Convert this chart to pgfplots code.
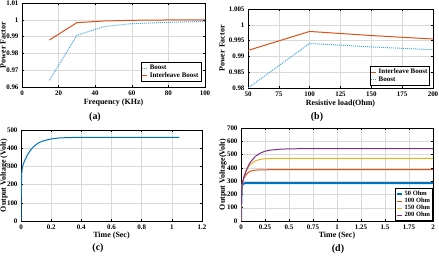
\documentclass[border=0pt]{standalone}
\usepackage{fontspec}
\setmainfont{Liberation Serif}
\usepackage{pgfplots}
\pgfplotsset{compat=1.18}

\definecolor{mblue}{rgb}{0,0.447,0.741}
\definecolor{mlblue}{rgb}{0.25,0.65,0.90}
\definecolor{morange}{rgb}{0.85,0.325,0.098}
\definecolor{myellow}{rgb}{0.929,0.694,0.125}
\definecolor{mpurple}{rgb}{0.494,0.184,0.556}

\pgfplotsset{
  panel/.style={
    scale only axis,
    anchor=north west,
    axis line style={black, line width=0.8pt},
    grid=major,
    major grid style={gray!30, line width=0.4pt},
    tick align=inside,
    major tick length=2pt,
    tick style={black, line width=0.5pt},
    every tick label/.append style={font=\fontsize{7}{8}\selectfont\bfseries},
    /pgf/number format/assume math mode=true,
    label style={font=\fontsize{8}{9}\selectfont\bfseries},
    legend style={font=\fontsize{7}{8}\selectfont\bfseries, draw=black, line width=0.8pt,
      inner sep=0.5pt, row sep=-2.5pt, cells={anchor=west}},
    legend cell align=left,
    legend image code/.code={\draw[##1] (0pt,0pt) -- (5pt,0pt);},
  },
  ylab at/.style={ylabel style={at={(axis description cs:#1,0.5)}, anchor=center}},
}

\begin{document}
\begin{tikzpicture}
\useasboundingbox (0bp,0bp) rectangle (439bp,257bp);

% (a) power factor versus switching frequency
\begin{axis}[panel,
  at={(22bp,254bp)}, width=183bp, height=84bp,
  xmin=0, xmax=100, ymin=0.96, ymax=1.01,
  xtick={0,20,...,100},
  ytick={0.96,0.97,0.98,0.99,1,1.01},
  yticklabels={0.96,0.97,0.98,0.99,1,1.01},
  xlabel={Frequency (KHz)}, ylabel={Power Factor},
  xlabel style={yshift=3pt}, ylab at=-0.104,
  legend style={at={(0.98,0.06)}, anchor=south east},
]
\addplot[mlblue, densely dotted, line width=1pt] coordinates {
  (15,0.964) (30,0.9908) (45,0.9960) (60,0.9977) (80,0.9985) (100,0.9990)};
\addlegendentry{Boost}
\addplot[morange, line width=1pt] coordinates {
  (15,0.988) (30,0.9983) (45,0.9993) (60,0.9997) (80,0.9999) (100,0.9999)};
\addlegendentry{Interleave Boost}
\end{axis}

% (b) power factor versus resistive load
\begin{axis}[panel,
  at={(248bp,248bp)}, width=185bp, height=79bp,
  xmin=50, xmax=200, ymin=0.98, ymax=1.005,
  xtick={50,75,...,200},
  ytick={0.98,0.985,0.99,0.995,1,1.005},
  yticklabels={0.98,0.985,0.99,0.995,1,1.005},
  xlabel={Resistive load(Ohm)}, ylabel={Power Factor},
  xlabel style={yshift=3pt}, ylab at=-0.14,
  legend style={at={(0.985,0.03)}, anchor=south east},
]
\addplot[morange, line width=1pt] coordinates {
  (50,0.9919) (100,0.9979) (150,0.9966) (200,0.9955)};
\addlegendentry{Interleave Boost}
\addplot[mlblue, densely dotted, line width=1pt] coordinates {
  (50,0.9800) (100,0.9941) (150,0.9930) (200,0.9921)};
\addlegendentry{Boost}
\end{axis}

% (c) output voltage of the interleaved converter
\begin{axis}[panel,
  at={(21bp,127bp)}, width=181bp, height=91bp,
  xmin=0, xmax=1.2, ymin=0, ymax=500,
  xtick={0,0.2,...,1.2},
  xticklabels={0,0.2,0.4,0.6,0.8,1,1.2},
  ytick={0,100,...,500},
  xlabel={Time (Sec)}, ylabel={Output Voltage (Volt)},
  xlabel style={yshift=4pt}, ylab at=-0.094,
]
\addplot[mblue, line width=1pt] coordinates {
  (0,0) (0.002,160) (0.005,265) (0.010,300) (0.02,323) (0.04,359)
  (0.06,386) (0.08,406) (0.10,420) (0.12,431) (0.15,441) (0.20,451)
  (0.25,456) (0.30,458) (0.40,460) (0.60,460) (1.05,460)};
\end{axis}

% (d) output voltage for several loads
\begin{axis}[panel,
  at={(241bp,129bp)}, width=192bp, height=93bp,
  xmin=0, xmax=2, ymin=0, ymax=700,
  xtick={0,0.25,...,2},
  xticklabels={0,0.25,0.5,0.75,1,1.25,1.5,1.75,2},
  ytick={0,100,...,700},
  xlabel={Time (Sec)}, ylabel={Output Voltage(Volt)},
  xlabel style={yshift=4pt}, ylab at=-0.094,
  legend style={at={(1,0)}, anchor=south east, row sep=-3pt,
    font=\fontsize{6.5}{7}\selectfont\bfseries},
]
\addplot[mblue, line width=2pt] coordinates {
  (0,0) (0.003,150) (0.008,250) (0.015,276) (0.03,283) (0.05,285) (2,285)};
\addlegendentry{50 Ohm}
\addplot[morange, line width=1pt] coordinates {
  (0,0) (0.003,150) (0.008,250) (0.015,290) (0.03,320) (0.05,346) (0.08,367)
  (0.10,375) (0.15,383) (0.20,385) (0.30,386) (2,386)};
\addlegendentry{100 Ohm}
\addplot[myellow, line width=1pt] coordinates {
  (0,0) (0.003,150) (0.008,250) (0.015,290) (0.03,330) (0.05,370) (0.08,410)
  (0.10,428) (0.15,453) (0.20,464) (0.25,468) (0.30,470) (0.40,472) (2,472)};
\addlegendentry{150 Ohm}
\addplot[mpurple, line width=1pt] coordinates {
  (0,0) (0.003,150) (0.008,250) (0.015,290) (0.03,329) (0.05,372) (0.08,421)
  (0.10,445) (0.15,487) (0.20,511) (0.25,525) (0.30,533) (0.40,540)
  (0.50,543) (0.60,544) (2,544)};
\addlegendentry{200 Ohm}
\end{axis}

% panel captions
\node[font=\fontsize{10}{11}\selectfont\bfseries] at (95bp,140bp) {(a)};
\node[font=\fontsize{10}{11}\selectfont\bfseries] at (317bp,140bp) {(b)};
\node[font=\fontsize{10}{11}\selectfont\bfseries] at (98bp,9bp) {(c)};
\node[font=\fontsize{10}{11}\selectfont\bfseries] at (338bp,8bp) {(d)};
\end{tikzpicture}
\end{document}
